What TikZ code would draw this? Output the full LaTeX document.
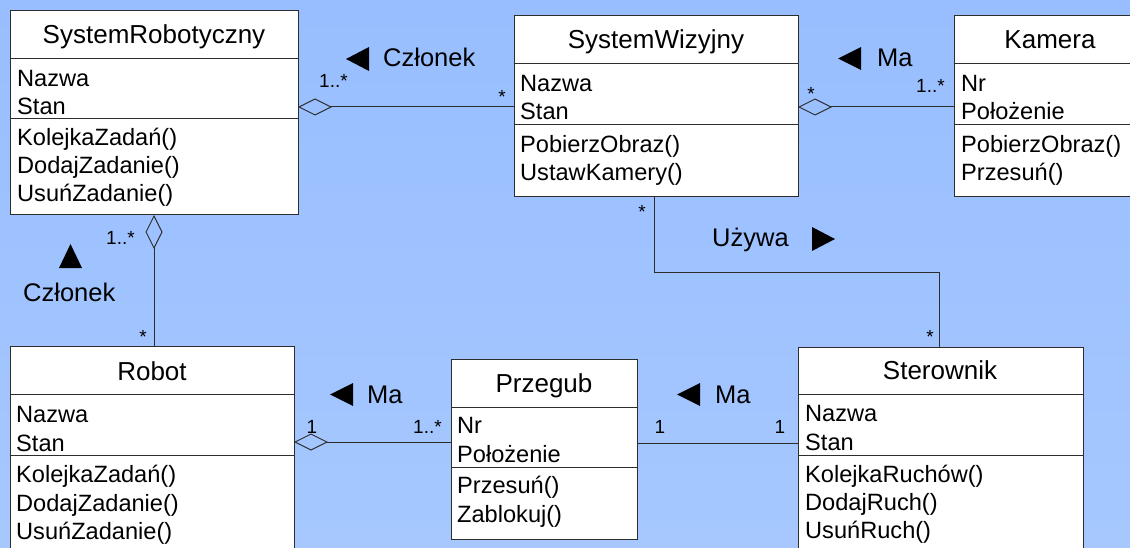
\documentclass[tikz,border=0pt]{standalone}
\usepackage{fontspec}
\setmainfont{Liberation Sans}
\usetikzlibrary{arrows.meta}
\definecolor{bgtop}{RGB}{152,190,255}
\definecolor{bgbot}{RGB}{166,200,255}
\definecolor{ln}{RGB}{45,45,45}
\tikzset{
 cls/.style={draw=ln, line width=1pt, fill=white, anchor=north west, inner sep=0pt, outer sep=0pt},
 ttl/.style={anchor=base, inner sep=0pt, font=\fontsize{26}{30}\selectfont},
 itm/.style={anchor=base west, inner sep=0pt, font=\fontsize{23.6}{28}\selectfont},
 lbl/.style={anchor=base west, inner sep=0pt, font=\fontsize{25.5}{30}\selectfont},
 mult/.style={anchor=base, inner sep=0pt, font=\fontsize{19}{22}\selectfont},
 multw/.style={mult, anchor=base west},
 conn/.style={draw=ln, line width=1pt},
 agg/.style={conn, -{Diamond[open, length=34pt, width=17pt]}},
 tri/.style={fill=black},
}
\begin{document}
\begin{tikzpicture}[x=1pt,y=-1pt]
\useasboundingbox (0,0) rectangle (1130,548);
\clip (0,0) rectangle (1130,548);
\shade[top color=bgtop, bottom color=bgbot] (0,0) rectangle (1130,548);

% ---- class boxes
\node[cls, minimum width=288pt, minimum height=204pt] (sr) at (10,11) {};
\node[cls, minimum width=284pt, minimum height=181pt] (sw) at (514,16) {};
\node[cls, minimum width=192pt, minimum height=181pt] (kam) at (954,16) {};
\node[cls, minimum width=284pt, minimum height=220pt] (robot) at (10,346) {};
\node[cls, minimum width=186pt, minimum height=180pt] (prz) at (451,359) {};
\node[cls, minimum width=285pt, minimum height=220pt] (ster) at (798,347) {};

% ---- dividers
\draw[conn] (sr.west |- 0,58.5) -- (sr.east |- 0,58.5);
\draw[conn] (sr.west |- 0,118.5) -- (sr.east |- 0,118.5);
\draw[conn] (sw.west |- 0,64) -- (sw.east |- 0,64);
\draw[conn] (sw.west |- 0,125) -- (sw.east |- 0,125);
\draw[conn] (kam.west |- 0,64) -- (kam.east |- 0,64);
\draw[conn] (kam.west |- 0,125) -- (kam.east |- 0,125);
\draw[conn] (robot.west |- 0,394) -- (robot.east |- 0,394);
\draw[conn] (robot.west |- 0,455) -- (robot.east |- 0,455);
\draw[conn] (prz.west |- 0,407) -- (prz.east |- 0,407);
\draw[conn] (prz.west |- 0,467) -- (prz.east |- 0,467);
\draw[conn] (ster.west |- 0,394) -- (ster.east |- 0,394);
\draw[conn] (ster.west |- 0,455) -- (ster.east |- 0,455);

% ---- titles
\node[ttl] (sr-t) at (154,44) {SystemRobotyczny};
\node[ttl] (sw-t) at (656,49) {SystemWizyjny};
\node[ttl] (kam-t) at (1050,49) {Kamera};
\node[ttl] (robot-t) at (152,380) {Robot};
\node[ttl] (prz-t) at (544,392) {Przegub};
\node[ttl] (ster-t) at (940,379) {Sterownik};

% ---- items
\node[itm] (sr-1) at (17,87) {Nazwa};
\node[itm] (sr-2) at (17,115) {Stan};
\node[itm] (sr-3) at (17,146) {KolejkaZadań()};
\node[itm] (sr-4) at (17,174) {DodajZadanie()};
\node[itm] (sr-5) at (17,202) {UsuńZadanie()};

\node[itm] (sw-1) at (520,92) {Nazwa};
\node[itm] (sw-2) at (520,120) {Stan};
\node[itm] (sw-3) at (520,153) {PobierzObraz()};
\node[itm] (sw-4) at (520,181) {UstawKamery()};

\node[itm] (kam-1) at (961,92) {Nr};
\node[itm] (kam-2) at (961,120) {Położenie};
\node[itm] (kam-3) at (961,153) {PobierzObraz()};
\node[itm] (kam-4) at (961,181) {Przesuń()};

\node[itm] (robot-1) at (16,422) {Nazwa};
\node[itm] (robot-2) at (16,451) {Stan};
\node[itm] (robot-3) at (16,482) {KolejkaZadań()};
\node[itm] (robot-4) at (16,511) {DodajZadanie()};
\node[itm] (robot-5) at (16,539) {UsuńZadanie()};

\node[itm] (prz-1) at (457,433) {Nr};
\node[itm] (prz-2) at (457,462) {Położenie};
\node[itm] (prz-3) at (457,493) {Przesuń()};
\node[itm] (prz-4) at (457,522) {Zablokuj()};

\node[itm] (ster-1) at (805,421) {Nazwa};
\node[itm] (ster-2) at (805,450) {Stan};
\node[itm] (ster-3) at (805,482) {KolejkaRuchów()};
\node[itm] (ster-4) at (805,510) {DodajRuch()};
\node[itm] (ster-5) at (805,538) {UsuńRuch()};

% ---- connectors
\draw[agg] (sw.west |- 0,107) -- (sr.east |- 0,107);
\draw[agg] (kam.west |- 0,107) -- (sw.east |- 0,107);
\draw[agg] (robot.north -| 154,0) -- (sr.south -| 154,0);
\draw[conn] (sw.south -| 654,0) -- (654,272) -- (939,272) -- (ster.north -| 939,0);
\draw[agg] (prz.west |- 0,442) -- (robot.east |- 0,442);
\draw[conn] (prz.east |- 0,443) -- (ster.west |- 0,443);

% ---- association labels
\fill[tri] (346,59) -- (369,47) -- (369,71) -- cycle;
\node[lbl] (l-czl1) at (383,67) {Członek};
\fill[tri] (838,58.5) -- (861,47) -- (861,70) -- cycle;
\node[lbl] (l-ma1) at (877,67) {Ma};
\fill[tri] (59,268) -- (82,268) -- (70.5,244) -- cycle;
\node[lbl] (l-czl2) at (23,301) {Członek};
\node[lbl] (l-uz) at (712,247) {Używa};
\fill[tri] (812,227) -- (812,251) -- (835,239) -- cycle;
\fill[tri] (330,394.5) -- (353,383) -- (353,406) -- cycle;
\node[lbl] (l-ma2) at (367,403) {Ma};
\fill[tri] (677,394.5) -- (700,383) -- (700,406) -- cycle;
\node[lbl] (l-ma3) at (715,403) {Ma};

% ---- multiplicities
\node[multw] (m1) at (319,88) {1..*};
\node[mult] (m2) at (502,103.5) {*};
\node[mult] (m3) at (811,100.5) {*};
\node[multw] (m4) at (916,93) {1..*};
\node[multw] (m5) at (106,245) {1..*};
\node[mult] (m6) at (143,343.5) {*};
\node[mult] (m7) at (642,218.5) {*};
\node[mult] (m8) at (930,343.5) {*};
\node[mult] (m9) at (312,433) {1};
\node[multw] (m10) at (413,433) {1..*};
\node[mult] (m11) at (660,433) {1};
\node[mult] (m12) at (780,433) {1};
\end{tikzpicture}
\end{document}
